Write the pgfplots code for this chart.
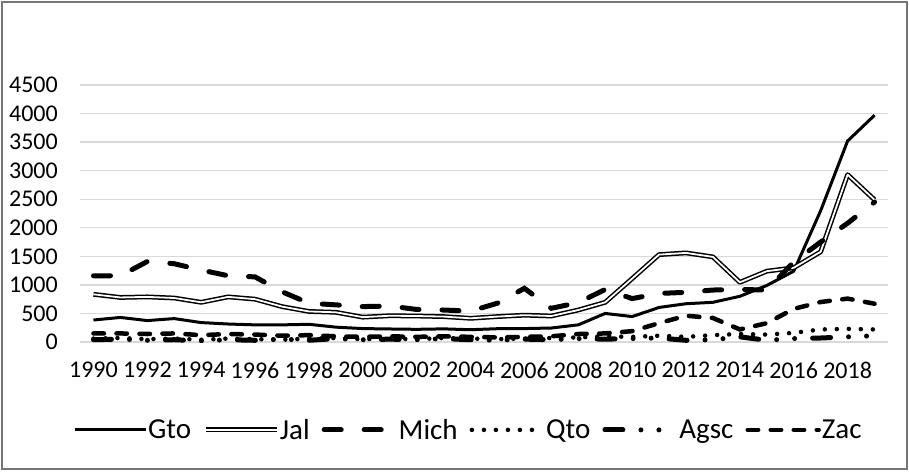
\documentclass[border=0pt]{standalone}
\usepackage{fontspec}
\setmainfont{Carlito}
\usepackage{pgfplots}
\pgfplotsset{compat=1.18}
\usepackage{pgfplotstable}

\definecolor{gridgray}{RGB}{217,217,217}
\definecolor{framegray}{RGB}{118,118,118}

% values
\pgfplotstableread{
year Gto  Jal  Mich Qto Agsc Zac
1990 385  835  1160 60  40   150
1991 430  780  1160 70  50   150
1992 375  790  1410 50  30   140
1993 410  770  1370 60  40   150
1994 340  695  1260 40  20   120
1995 315  790  1160 60  40   140
1996 300  750  1140 50  30   130
1997 300  620  880  40  50   110
1998 310  535  680  60  30   120
1999 260  520  650  70  60   100
2000 235  435  620  50  40   90
2001 228  460  630  60  50   100
2002 222  455  570  50  40   90
2003 230  445  560  70  60   100
2004 215  415  540  60  40   90
2005 233  445  680  50  30   80
2006 235  470  940  60  50   90
2007 245  455  590  70  40   100
2008 300  560  690  80  60   140
2009 500  695  920  100 50   150
2010 445  1110 760  90  60   190
2011 605  1530 850  110 70   330
2012 670  1560 870  90  30   460
2013 695  1490 910  120 40   420
2014 800  1045 920  140 90   220
2015 990  1240 910  130 30   330
2016 1240 1300 1400 160 60   580
2017 2300 1580 1750 220 70   700
2018 3520 2930 2080 230 90   760
2019 3970 2490 2450 220 110  670
}\datatable

\begin{document}
\begin{tikzpicture}
\begin{axis}[
  at={(0pt,0pt)}, anchor=south west,
  scale only axis, width=808pt, height=257pt,
  xmin=1989.5, xmax=2019.5, ymin=0, ymax=4500,
  xtick={1990,1992,...,2018},
  ytick={0,500,...,4500},
  ymajorgrids,
  grid style={draw=gridgray, line width=1.3pt},
  axis line style={draw=none},
  major tick length=0pt,
  tick label style={font=\fontsize{24}{28}\selectfont},
  /pgf/number format/assume math mode=true,
  /pgf/number format/1000 sep={},
  xticklabel style={anchor=center, yshift=-28pt},
  yticklabel style={anchor=east, inner sep=0pt, xshift=-22pt},
  legend columns=6,
  legend style={at={(axis description cs:0.480,-0.342)}, anchor=center,
    draw=none, fill=none, font=\fontsize{29}{33}\selectfont,
    nodes={inner sep=1pt},
    /tikz/every even column/.append style={column sep=11pt}},
  legend image code/.code={\draw[#1] (0pt,0pt) -- (71pt,0pt);},
]
\addplot[black, line width=3pt, line join=round] table[x=year, y=Gto] {\datatable};
\addplot[black, line width=1.5pt, double=white, double distance=1.8pt, line join=round] table[x=year, y=Jal] {\datatable};
\addplot[black, line width=5pt, line cap=round, dash pattern=on 17pt off 23pt] table[x=year, y=Mich] {\datatable};
\addplot[black, line width=4.5pt, line cap=round, dash pattern=on 0pt off 12pt] table[x=year, y=Qto] {\datatable};
\addplot[black, line width=5pt, line cap=round, dash pattern=on 18pt off 18pt on 0pt off 18pt on 0pt off 18pt] table[x=year, y=Agsc] {\datatable};
\addplot[black, line width=4.5pt, line cap=round, dash pattern=on 10.5pt off 12.5pt] table[x=year, y=Zac] {\datatable};
\legend{Gto, Jal, Mich, Qto, Agsc, Zac}
\end{axis}
\draw[framegray, line width=1.2pt] (-78pt,-127pt) rectangle (827pt,340pt);
\path (-80pt,-129pt) rectangle (829pt,342pt);
\end{tikzpicture}
\end{document}
